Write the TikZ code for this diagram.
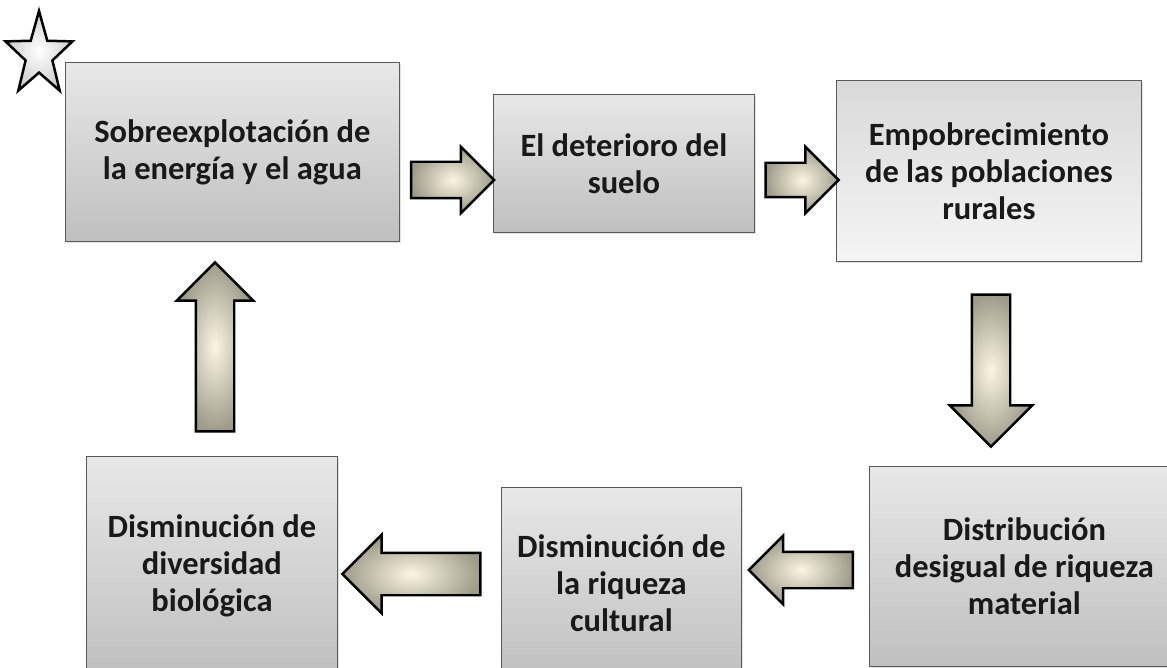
\documentclass[tikz,border=0pt]{standalone}
\usepackage{fontspec}
\setmainfont{Carlito}
\usetikzlibrary{shapes.arrows,shapes.geometric,shadows}

\definecolor{arrowin}{RGB}{250,246,226}
\definecolor{arrowout}{RGB}{158,155,138}

\begin{document}
\begin{tikzpicture}[x=1pt,y=-1pt,
    box/.style={draw=black!65,line width=0.8pt,top color=black!9,bottom color=black!25,
      drop shadow={shadow xshift=1.5pt,shadow yshift=-1.5pt,fill=black!22},
      anchor=north west,inner sep=0pt,align=center,text=black!90,
      font=\fontsize{32.5}{37}\selectfont\bfseries},
    lightbox/.style={box,top color=black!15,bottom color=black!4},
    flecha/.style={single arrow,draw=black,line width=2.4pt,inner xsep=0pt,line join=miter,
      shading=radial,inner color=arrowin,outer color=arrowout}]
    \useasboundingbox (0,0) rectangle (1167,668);
    \clip (0,0) rectangle (1167,668);

    \node[star,star points=5,star point ratio=2.5,minimum size=88,inner sep=0pt,xscale=0.8,
      draw=black,line width=2.5pt,shading=radial,inner color=white,outer color=black!20] (mark) at (39,55) {};

    \node[box,minimum width=334,minimum height=179] (b1) at (65,62) {Sobreexplotación de\\la energía y el agua};
    \node[box,minimum width=261,minimum height=138] (b2) at (493,94) {El deterioro del\\suelo};
    \node[lightbox,minimum width=305,minimum height=181] (b3) at (836,80) {Empobrecimiento\\de las poblaciones\\rurales};
    \node[box,minimum width=310,minimum height=200] (b4) at (869,466) {Distribución\\desigual de riqueza\\material};
    \node[box,minimum width=240,minimum height=192] (b5) at (501,487) {Disminución de\\la riqueza\\cultural};
    \node[box,minimum width=251,minimum height=218] (b6) at (86,456) {Disminución de\\diversidad\\biológica};

    % shaft width = 2 x inner ysep
    \node[flecha,minimum height=83,inner ysep=17,single arrow head extend=15] (a1) at (443.5,180) {};
    \node[flecha,minimum height=73,inner ysep=16,single arrow head extend=16] (a2) at (793.5,180) {};
    \node[flecha,minimum height=152,inner ysep=18,single arrow head extend=22,rotate=-90] (a3) at (991,361) {};
    \node[flecha,minimum height=104,inner ysep=17,single arrow head extend=16,rotate=180] (a4) at (810,570) {};
    \node[flecha,minimum height=138,inner ysep=20,single arrow head extend=18,rotate=180] (a5) at (422,574) {};
    \node[flecha,minimum height=169,inner ysep=18,single arrow head extend=19,rotate=90] (a6) at (215,356.5) {};
\end{tikzpicture}
\end{document}
